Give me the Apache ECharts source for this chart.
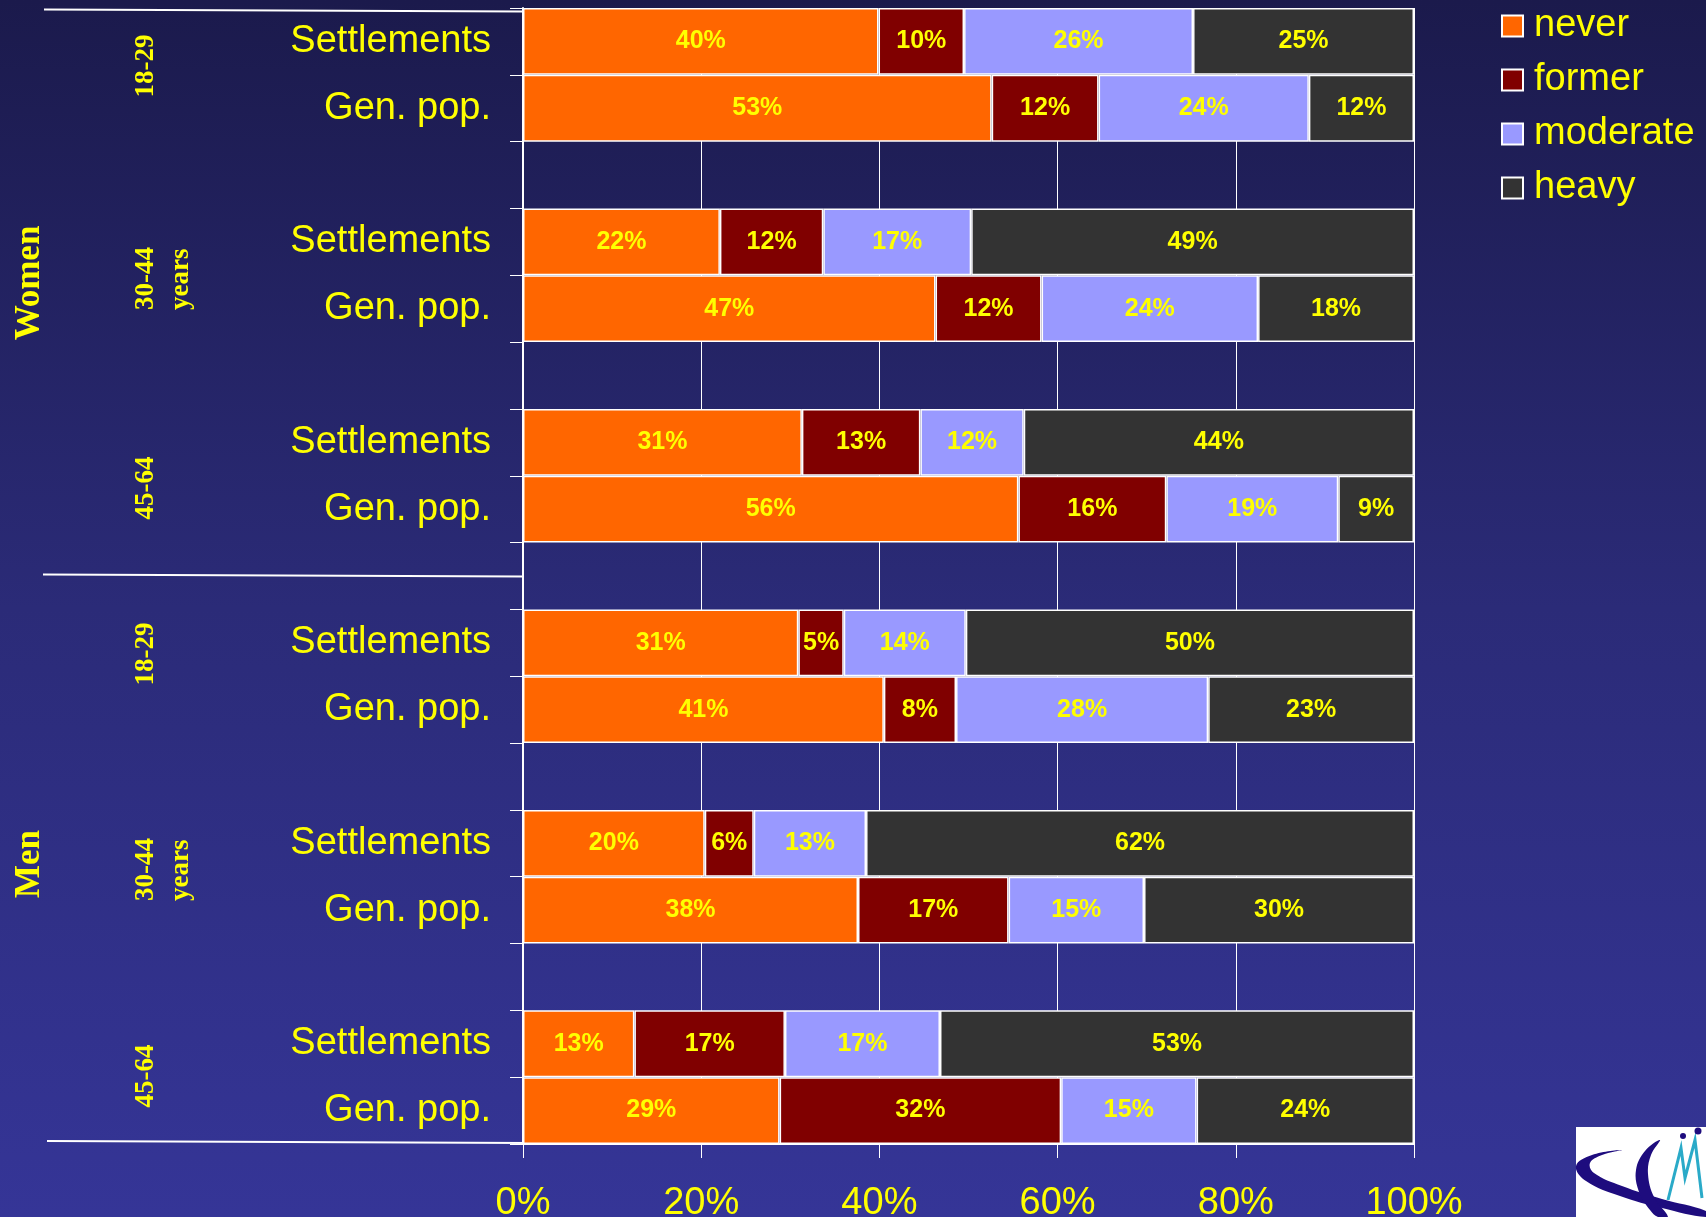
<!DOCTYPE html>
<html><head><meta charset="utf-8">
<script src="https://cdn.jsdelivr.net/npm/echarts@6/dist/echarts.min.js"></script>
<style>
html,body{margin:0;padding:0;width:1706px;height:1217px;overflow:hidden;background:linear-gradient(to bottom,#1b1a4c 0%,#2b2b78 50%,#353597 100%);}
#c{width:1706px;height:1217px;}
</style>
</head><body><div id="c"></div>
<script>
// ---- data ----
const categories = ['Settlements','Gen. pop.','','Settlements','Gen. pop.','','Settlements','Gen. pop.','','Settlements','Gen. pop.','','Settlements','Gen. pop.','','Settlements','Gen. pop.'];
const seriesNames = ['never','former','moderate','heavy'];
// printed percentages (labels)
const neverLbl    = [40,53,null,22,47,null,31,56,null,31,41,null,20,38,null,13,29];
const formerLbl   = [10,12,null,12,12,null,13,16,null, 5, 8,null, 6,17,null,17,32];
const moderateLbl = [26,24,null,17,24,null,12,19,null,14,28,null,13,15,null,17,15];
const heavyLbl    = [25,12,null,49,18,null,44, 9,null,50,23,null,62,30,null,53,24];
// segment shares (percent of the row)
const never    = [39.9,52.6,null,22.1,46.3,null,31.3,55.6,null,30.9,40.5,null,20.4,37.6,null,12.5,28.8];
const former   = [ 9.6,12.0,null,11.6,11.9,null,13.3,16.6,null, 5.1, 8.1,null, 5.5,16.9,null,16.9,31.6];
const moderate = [25.7,23.6,null,16.6,24.3,null,11.6,19.3,null,13.7,28.3,null,12.6,15.2,null,17.4,15.2];
const heavy    = [24.8,11.8,null,49.7,17.5,null,43.8, 8.5,null,50.3,23.1,null,61.5,30.3,null,53.2,24.4];
const xTickLabels = ['0%','20%','40%','60%','80%','100%'];
const sexLabels = ['Women','Men'];
const ageLabels = ['18-29','30-44','45-64'];
const yearsLabel = 'years';

const colors = ['#FF6600','#800000','#9999FF','#333333'];
const YELLOW = '#FFFF00';
const shares = [never, former, moderate, heavy];
const labels = [neverLbl, formerLbl, moderateLbl, heavyLbl];
const SANS = 'Liberation Sans, Arial, sans-serif';

const series = shares.map((arr, si) => ({
  name: seriesNames[si],
  type: 'bar',
  stack: 'total',
  barCategoryGap: '0%',
  data: arr.map(v => v == null ? '-' : v),
  itemStyle: { color: colors[si], borderColor: '#FFFFFF', borderWidth: 1.5 },
  label: {
    show: true, position: 'inside', color: YELLOW, fontWeight: 'bold',
    fontSize: 25, fontFamily: SANS, textBorderWidth: 0,
    formatter: p => labels[si][p.dataIndex] + '%'
  },
  emphasis: { disabled: true }
}));

const serif = 'Liberation Serif, Times New Roman, serif';
function vtext(txt, x, y, size, align){
  return { type:'text', x:x, y:y, rotation: Math.PI/2,
    style:{ text: txt, fill: YELLOW, font: 'bold ' + size + 'px ' + serif, textAlign: align || 'center', textVerticalAlign:'middle' } };
}

const graphics = [
  // bracket lines
  { type:'line', shape:{x1:44,y1:9.5,x2:523,y2:11.5}, style:{stroke:'#FFFFFF', lineWidth:2} },
  { type:'line', shape:{x1:43,y1:574.5,x2:524,y2:576.5}, style:{stroke:'#FFFFFF', lineWidth:2} },
  { type:'line', shape:{x1:47,y1:1141,x2:528,y2:1143}, style:{stroke:'#FFFFFF', lineWidth:2} },
  vtext(sexLabels[0], 30, 283, 35),
  vtext(sexLabels[1], 30, 864, 35),
  vtext(ageLabels[0], 146, 66, 27),
  vtext(ageLabels[1], 146, 310, 27, 'left'),
  vtext(yearsLabel, 181, 310, 27, 'left'),
  vtext(ageLabels[2], 146, 488, 27),
  vtext(ageLabels[0], 146, 654, 27),
  vtext(ageLabels[1], 146, 901, 27, 'left'),
  vtext(yearsLabel, 181, 901, 27, 'left'),
  vtext(ageLabels[2], 146, 1076, 27),
  // logo (bottom right)
  { type:'rect', shape:{x:1576,y:1127,width:130,height:90}, style:{fill:'#FFFFFF'} },
  { type:'polygon', shape:{ smooth:0.4, points:[[1622,1150],[1592,1155],[1576,1166],[1586,1181],[1620,1196],[1662,1208],[1706,1217],[1706,1211],[1662,1199],[1622,1186],[1594,1173],[1590,1163],[1602,1155]] }, style:{fill:'#1E0C7E'} },
  { type:'polygon', shape:{ smooth:0.4, points:[[1660,1140],[1645,1151],[1636,1170],[1639,1192],[1650,1210],[1658,1217],[1668,1217],[1654,1197],[1648,1174],[1651,1155]] }, style:{fill:'#1E0C7E'} },
  { type:'polyline', shape:{ points:[[1668,1200],[1681,1148],[1685,1178],[1695,1140],[1702,1198]] }, style:{stroke:'#2AAAC8', lineWidth:3, fill:null} },
  { type:'circle', shape:{cx:1683,cy:1136,r:3}, style:{fill:'#1E0C7E'} },
  { type:'circle', shape:{cx:1698,cy:1131,r:3.5}, style:{fill:'#1E0C7E'} }
];

const chart = echarts.init(document.getElementById('c'), null, {renderer:'canvas'});
chart.setOption({
  backgroundColor: 'transparent',
  animation: false,
  color: colors,
  grid: { left: 523, top: 8, width: 891, height: 1136, containLabel: false, outerBoundsMode: 'none' },
  legend: {
    data: seriesNames, orient: 'vertical', left: 1496, top: 2,
    itemWidth: 21, itemHeight: 21, itemGap: 16, icon: 'rect',
    textStyle: { color: YELLOW, fontSize: 38, fontFamily: SANS, padding:[0,0,0,6] },
    selectedMode: false
  },
  xAxis: {
    type: 'value', min: 0, max: 100, interval: 20,
    axisLine: { show: true, lineStyle: { color: '#FFFFFF', width: 2 } },
    axisTick: { show: true, length: 14, lineStyle: { color: '#FFFFFF', width: 1 } },
    splitLine: { show: true, lineStyle: { color: '#FFFFFF', width: 1 } },
    axisLabel: { color: YELLOW, fontSize: 38, fontFamily: SANS, margin: 41,
      formatter: v => xTickLabels[Math.round(v/20)] }
  },
  yAxis: {
    type: 'category', data: categories, inverse: true,
    axisLine: { show: true, lineStyle: { color: '#FFFFFF', width: 2 } },
    axisTick: { show: true, length: 13, lineStyle: { color: '#FFFFFF', width: 1 } },
    splitLine: { show: false },
    axisLabel: { color: YELLOW, fontSize: 38, fontFamily: SANS, margin: 32, interval: 0 }
  },
  series: series,
  graphic: { elements: graphics }
});
</script></body></html>
